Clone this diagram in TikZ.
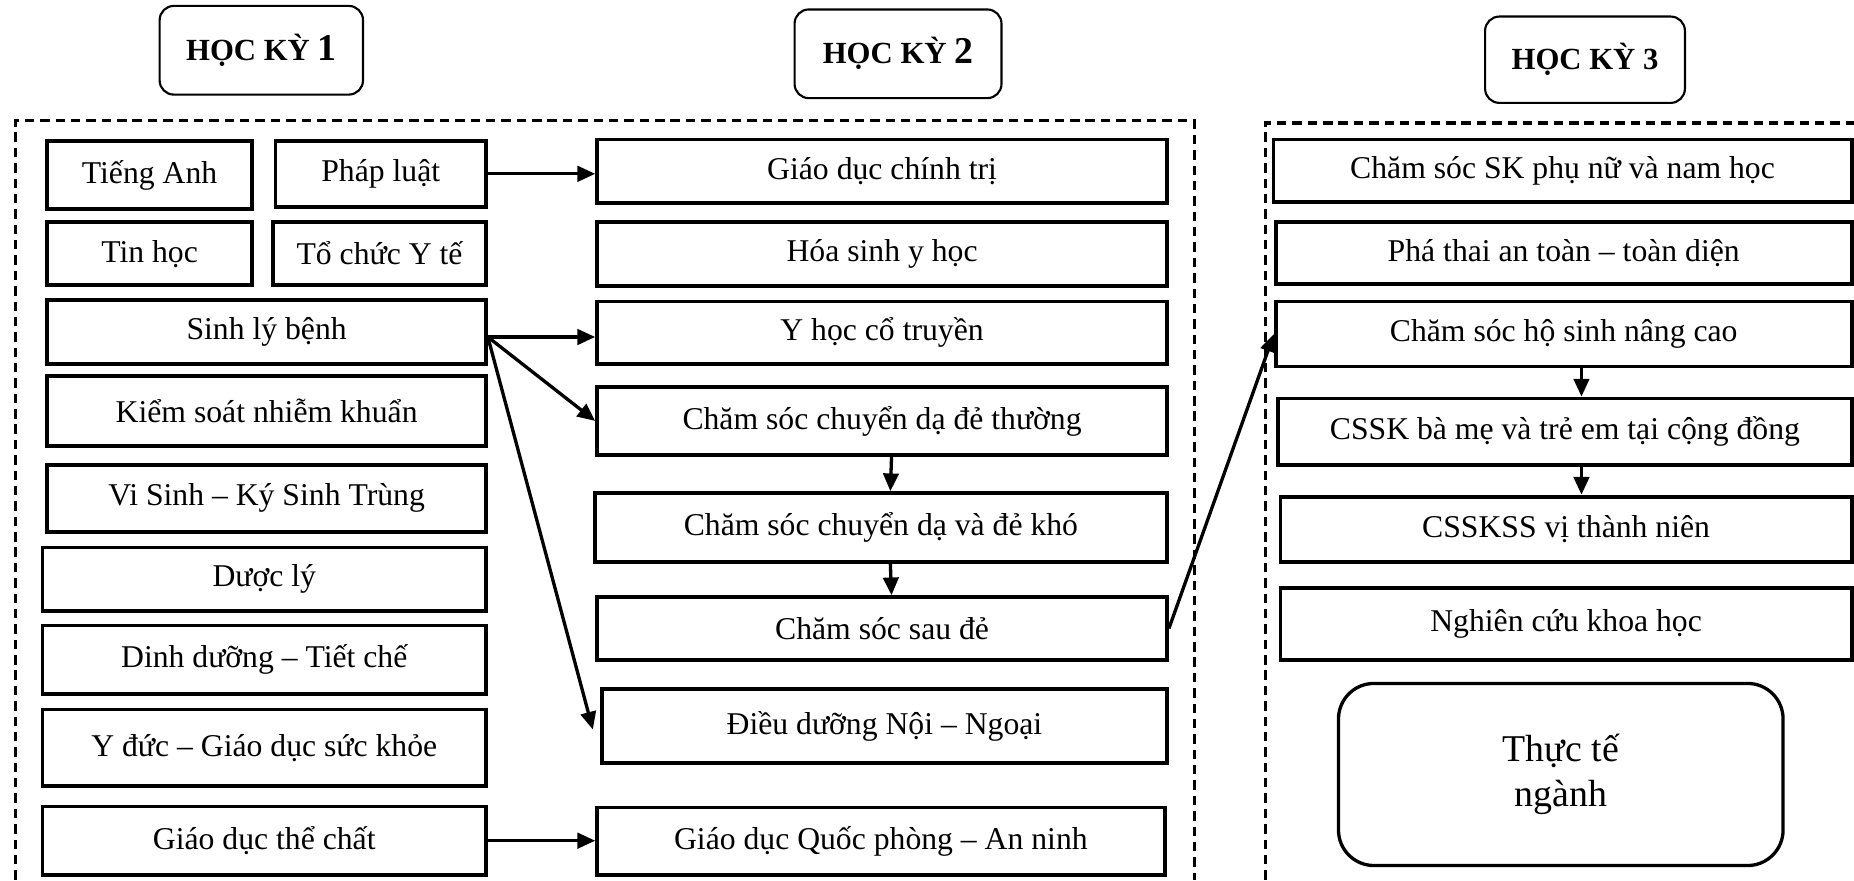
\documentclass[tikz,border=0pt]{standalone}
\usepackage{fontspec}
\setmainfont{Liberation Serif}
\usetikzlibrary{arrows.meta}
\tikzset{
  box/.style={draw, line width=3.2pt, rectangle, inner sep=0pt, font=\fontsize{26.8}{32}\selectfont, align=center},
  hdr/.style={draw, line width=1.8pt, rounded corners=12pt, inner sep=0pt, font=\bfseries\fontsize{26}{30}\selectfont},
  pract/.style={draw, line width=2.8pt, rounded corners=30pt, inner sep=0pt, align=center, font=\fontsize{32}{38}\selectfont},
  conn/.style={line width=2.8pt, -{Triangle[length=15pt,width=13pt]}},
  grp/.style={line width=2.8pt, dash pattern=on 8pt off 5pt},
}
\newcommand\bx[7][box]{\node[#1, minimum width={#5pt-#3pt}, minimum height={#6pt-#4pt}] (#2) at ({(#3+#5)/2},{(#4+#6)/2}) {#7};}
\begin{document}
\begin{tikzpicture}[x=1pt,y=-1pt]
\useasboundingbox[fill=white] (0,0) rectangle (1568,745);
% groups
\draw[grp] (13,744) -- (13,102) -- (1010,102) -- (1010,744);
\draw[grp] (1070,744) -- (1070,104) -- (1580,104);
% headers
\bx[hdr]{hk1}{135}{5}{307}{80}{HỌC KỲ {\fontsize{32}{34}\selectfont 1}}
\bx[hdr]{hk2}{672}{8}{847}{83}{HỌC KỲ {\fontsize{32}{34}\selectfont 2}}
\bx[hdr]{hk3}{1256}{14}{1425}{87}{HỌC KỲ 3}
% semester 1
\bx{ta}{40}{119}{213}{177}{Tiếng Anh}
\bx{pl}{233}{119}{411}{175}{Pháp luật}
\bx{th}{40}{188}{213}{241}{Tin học}
\bx{tc}{231}{188}{411}{241}{Tổ chức Y tế}
\bx{slb}{40}{254}{411}{308}{Sinh lý bệnh}
\bx{ks}{40}{318}{411}{377}{Kiểm soát nhiễm khuẩn}
\bx{vs}{40}{393}{411}{450}{Vi Sinh – Ký Sinh Trùng}
\bx{dl}{36}{463}{411}{517}{Dược lý}
\bx{dd}{36}{529}{411}{587}{Dinh dưỡng – Tiết chế}
\bx{yd}{36}{600}{411}{665}{Y đức – Giáo dục sức khỏe}
\bx{gdtc}{36}{682}{411}{740}{Giáo dục thể chất}
% semester 2
\bx{gdct}{505}{118}{987}{172}{Giáo dục chính trị}
\bx{hs}{505}{188}{987}{242}{Hóa sinh y học}
\bx{yhct}{505}{255}{987}{308}{Y học cổ truyền}
\bx{csdt}{505}{327}{987}{385}{Chăm sóc chuyển dạ đẻ thường}
\bx{cskh}{503}{417}{987}{475}{Chăm sóc chuyển dạ và đẻ khó}
\bx{cssd}{505}{505}{987}{558}{Chăm sóc sau đẻ}
\bx{ddnn}{509}{583}{987}{645}{Điều dưỡng Nội – Ngoại}
\bx{gdqp}{505}{683}{985}{740}{Giáo dục Quốc phòng – An ninh}
% semester 3
\bx{cspn}{1077}{118}{1566}{171}{Chăm sóc SK phụ nữ và nam học}
\bx{pt}{1079}{188}{1566}{240}{Phá thai an toàn – toàn diện}
\bx{hsnc}{1079}{255}{1566}{310}{Chăm sóc hộ sinh nâng cao}
\bx{bm}{1081}{337}{1566}{393}{CSSK bà mẹ và trẻ em tại cộng đồng}
\bx{vtn}{1083}{420}{1566}{475}{CSSKSS vị thành niên}
\bx{nc}{1083}{497}{1566}{558}{Nghiên cứu khoa học}
\bx[pract]{tt}{1132}{578}{1508}{732}{Thực tế\\ngành}
% connectors
\draw[conn] (pl.east) -- (pl.east -| gdct.west);
\draw[conn] ([yshift=-4pt]slb.east) -- ([yshift=-4pt]slb.east -| yhct.west);
\draw[conn] ([yshift=-4pt]slb.east) -- (csdt.west);
\draw[conn] ([yshift=-4pt]slb.east) -- ([xshift=-6pt,yshift=-3pt]ddnn.west);
\draw[conn] ([xshift=8pt]csdt.south) -- ([xshift=8pt]cskh.north);
\draw[conn] ([xshift=8pt]cskh.south) -- ([xshift=8pt]cssd.north);
\draw[conn] (cssd.east) -- (hsnc.west);
\draw[conn] (gdtc.east) -- (gdtc.east -| gdqp.west);
\draw[conn] ([xshift=15pt]hsnc.south) -- ([xshift=14pt]bm.north);
\draw[conn] ([xshift=14pt]bm.south) -- ([xshift=13pt]vtn.north);
\end{tikzpicture}
\end{document}
